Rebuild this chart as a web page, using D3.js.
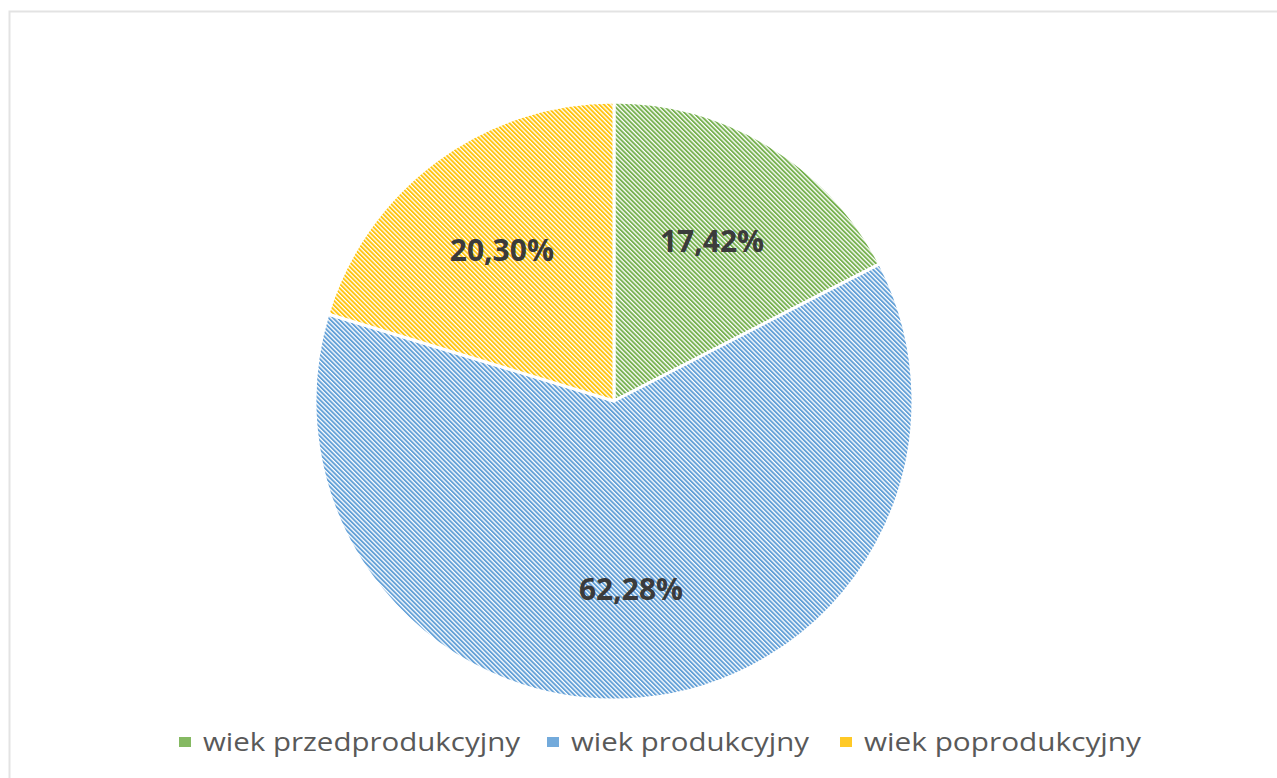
<!DOCTYPE html>
<html><head><meta charset="utf-8">
<script src="https://cdn.jsdelivr.net/npm/d3@7"></script>
<style>html,body{margin:0;padding:0;background:#fff;}svg{display:block;}</style>
</head><body>
<svg id="chart" width="1277" height="778"></svg>
<script>
const categories = ["wiek przedprodukcyjny", "wiek produkcyjny", "wiek poprodukcyjny"];
const values = [17.42, 62.28, 20.30];
const labels = ["17,42%", "62,28%", "20,30%"];
const colors = ["#70AD47", "#5B9BD5", "#FFC000"];

const svg = d3.select("#chart");
const W = 1277, H = 778;

// frame
svg.append("rect").attr("x", 9.5).attr("y", 11.5).attr("width", W + 10).attr("height", H + 10)
  .attr("fill", "#fff").attr("stroke", "#e3e3e3").attr("stroke-width", 2);

const defs = svg.append("defs");
colors.forEach((c, i) => {
  const p = defs.append("pattern").attr("id", "hatch" + i)
    .attr("patternUnits", "userSpaceOnUse").attr("width", 3.2).attr("height", 3.2)
    .attr("patternTransform", "rotate(-45)");
  p.append("rect").attr("width", 3.2).attr("height", 3.2).attr("fill", "#fff");
  p.append("rect").attr("width", 1.9).attr("height", 3.2).attr("fill", c).attr("opacity", 0.95);
});

const cx = 614, cy = 401, r = 299;
const pie = d3.pie().sort(null).value(d => d)(values);
const arc = d3.arc().innerRadius(0).outerRadius(r);
const g = svg.append("g").attr("transform", `translate(${cx},${cy})`);
g.selectAll("path").data(pie).join("path")
  .attr("d", arc).attr("fill", (d, i) => `url(#hatch${i})`)
  .attr("stroke", "#fff").attr("stroke-width", 3).attr("stroke-linejoin", "round");

const labelArc = d3.arc().innerRadius(r * 0.63).outerRadius(r * 0.63);
g.selectAll("text.lbl").data(pie).join("text").attr("class", "lbl")
  .attr("transform", d => { const [x, y] = labelArc.centroid(d); return `translate(${x},${y})`; })
  .attr("text-anchor", "middle").attr("dominant-baseline", "central")
  .attr("font-family", "'Open Sans', sans-serif").attr("font-weight", "bold")
  .attr("font-size", 30).attr("fill", "#3b3b3b")
  .text((d, i) => labels[i]);

// legend
const legendMarkerX = [179, 547, 840];
const legendTextW = [317, 238, 277];
const lg = svg.append("g");
categories.forEach((c, i) => {
  const item = lg.append("g").attr("transform", `translate(${legendMarkerX[i]},0)`);
  item.append("rect").attr("x", 0).attr("y", 737).attr("width", 12).attr("height", 10)
    .attr("fill", colors[i]).attr("opacity", 0.85);
  item.append("text").attr("x", 24).attr("y", 751)
    .attr("font-family", "'Open Sans', sans-serif").attr("font-size", 26).attr("fill", "#595959")
    .attr("textLength", legendTextW[i]).attr("lengthAdjust", "spacingAndGlyphs")
    .text(c);
});
</script>
</body></html>
